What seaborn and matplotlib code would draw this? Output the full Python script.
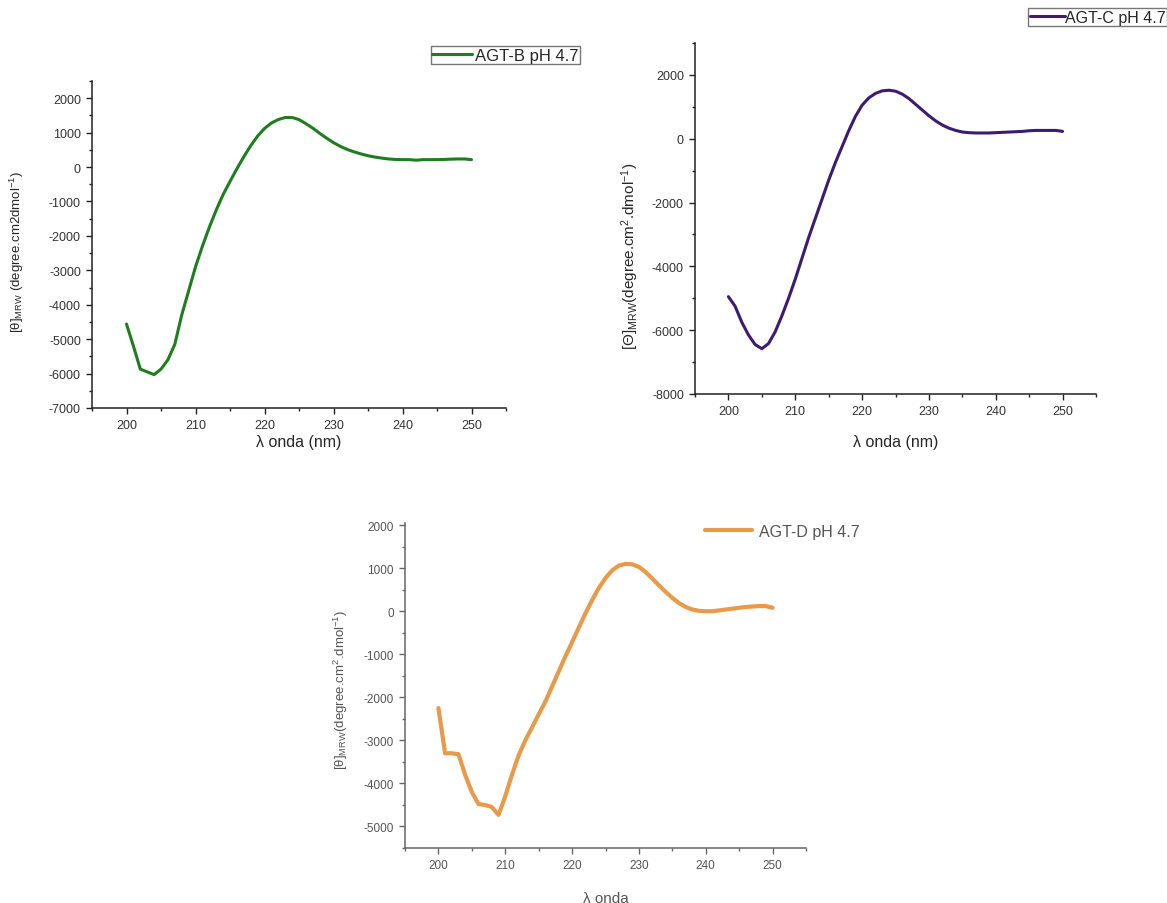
import matplotlib
matplotlib.use("Agg")
import matplotlib.pyplot as plt
from matplotlib.ticker import MultipleLocator
import seaborn as sns
import pandas as pd

sns.set_style("ticks")
plt.rcParams['font.family'] = ['Liberation Sans', 'DejaVu Sans']
plt.rcParams['mathtext.fontset'] = 'custom'
plt.rcParams['mathtext.rm'] = 'Liberation Sans'
plt.rcParams['mathtext.it'] = 'Liberation Sans'
plt.rcParams['axes.unicode_minus'] = False

# wavelengths, 1 nm step
wl = list(range(200, 251))

agt_b = [-4560, -5200, -5870, -5950, -6030, -5870, -5600, -5150, -4300, -3600,
         -2900, -2300, -1750, -1250, -800, -420, -50, 300, 620, 900,
         1120, 1280, 1380, 1440, 1440, 1380, 1260, 1130, 980, 840,
         710, 600, 510, 440, 380, 330, 290, 260, 235, 220,
         215, 215, 200, 215, 215, 215, 220, 230, 235, 235, 215]

agt_c = [-4950, -5250, -5750, -6150, -6450, -6580, -6420, -6050, -5550, -5000,
         -4400, -3750, -3100, -2500, -1900, -1300, -750, -250, 250, 700,
         1050, 1280, 1420, 1500, 1520, 1490, 1400, 1260, 1080, 900,
         720, 560, 430, 330, 260, 210, 190, 180, 180, 180,
         190, 200, 210, 220, 230, 250, 260, 260, 260, 260, 230]

agt_d = [-2250, -3300, -3300, -3320, -3800, -4200, -4480, -4500, -4550, -4730,
         -4300, -3800, -3350, -3000, -2700, -2400, -2100, -1750, -1400, -1050,
         -720, -380, -50, 260, 540, 770, 950, 1060, 1100, 1090,
         1030, 910, 760, 600, 450, 310, 190, 100, 40, 10,
         0, 0, 20, 40, 60, 80, 100, 110, 120, 120, 80]

df = pd.DataFrame({"wl": wl, "B": agt_b, "C": agt_c, "D": agt_d})

W, H = 1167, 904
fig = plt.figure(figsize=(W / 100, H / 100), dpi=100)


def box(l, t, r, b):
    return [l / W, 1 - b / H, (r - l) / W, (b - t) / H]


def style_axis(ax, ymaj, ymin, col="#222222", tcol="#222222", fs=9):
    sns.despine(ax=ax)
    ax.xaxis.set_major_locator(MultipleLocator(10))
    ax.xaxis.set_minor_locator(MultipleLocator(5))
    ax.yaxis.set_major_locator(MultipleLocator(ymaj))
    ax.yaxis.set_minor_locator(MultipleLocator(ymin))
    ax.tick_params(which="major", direction="out", length=4.5, width=1, colors=col,
                   labelcolor=tcol, labelsize=fs)
    ax.tick_params(which="minor", direction="out", length=2.5, width=1, colors=col)
    for s in ("left", "bottom"):
        ax.spines[s].set_color(col)
        ax.spines[s].set_linewidth(1.1)
    ax.set_xlim(195, 255)


# panel B
ax1 = fig.add_axes(box(92, 82, 506, 409))
sns.lineplot(data=df, x="wl", y="B", ax=ax1, color="#1e7d1e", lw=2.2, label="AGT-B pH 4.7", legend=False)
style_axis(ax1, 1000, 500, tcol="#333333")
ax1.set_ylim(-7000, 2500)
ax1.set_xlabel("λ onda (nm)", fontsize=11.5, labelpad=2)
ax1.set_ylabel(r"[θ]$_{\mathrm{MRW}}$ (degree.cm2dmol$^{\mathrm{-1}}$)", fontsize=9.5)
ax1.yaxis.set_label_coords(-0.16, 0.48)
fig.legend(handles=ax1.get_lines(), loc="upper right", bbox_to_anchor=(580 / W, 1 - 47 / H),
           fontsize=12, frameon=True, fancybox=False, edgecolor="#555555", borderpad=0.1,
           handlelength=2.4, handletextpad=0.15, borderaxespad=0)

# panel C
ax2 = fig.add_axes(box(695, 44, 1096, 395))
sns.lineplot(data=df, x="wl", y="C", ax=ax2, color="#3b1c6e", lw=2.2, label="AGT-C pH 4.7", legend=False)
style_axis(ax2, 2000, 1000, tcol="#333333")
ax2.set_ylim(-8000, 3000)
ax2.set_xlabel("λ onda (nm)", fontsize=11.5, labelpad=12)
ax2.set_ylabel(r"[Θ]$_{\mathrm{MRW}}$(degree.cm$^{\mathrm{2}}$.dmol$^{\mathrm{-1}}$)", fontsize=11)
ax2.yaxis.set_label_coords(-0.135, 0.394)
fig.legend(handles=ax2.get_lines(), loc="upper right", bbox_to_anchor=(1.0, 1 - 9 / H),
           fontsize=11.5, frameon=True, fancybox=False, edgecolor="#555555", borderpad=0.1,
           handlelength=2.2, handletextpad=0.0, borderaxespad=0)

# panel D
ax3 = fig.add_axes(box(405, 524, 806, 849))
sns.lineplot(data=df, x="wl", y="D", ax=ax3, color="#e89a48", lw=3, label="AGT-D pH 4.7", legend=False)
style_axis(ax3, 1000, 500, col="#666666", tcol="#555555", fs=8.5)
ax3.set_ylim(-5500, 2050)
ax3.set_xlabel("λ onda", fontsize=11, color="#555555", labelpad=14)
ax3.set_ylabel(r"[θ]$_{\mathrm{MRW}}$(degree.cm$^{\mathrm{2}}$.dmol$^{\mathrm{-1}}$)", fontsize=9.5, color="#555555")
ax3.yaxis.set_label_coords(-0.137, 0.49)
leg = fig.legend(handles=ax3.get_lines(), loc="center left", bbox_to_anchor=(699 / W, 1 - 532 / H),
                 fontsize=11.5, frameon=False, handlelength=2.9, handletextpad=0.45, borderaxespad=0)
for t in leg.get_texts():
    t.set_color("#555555")

fig.savefig("out.png", dpi=100)
